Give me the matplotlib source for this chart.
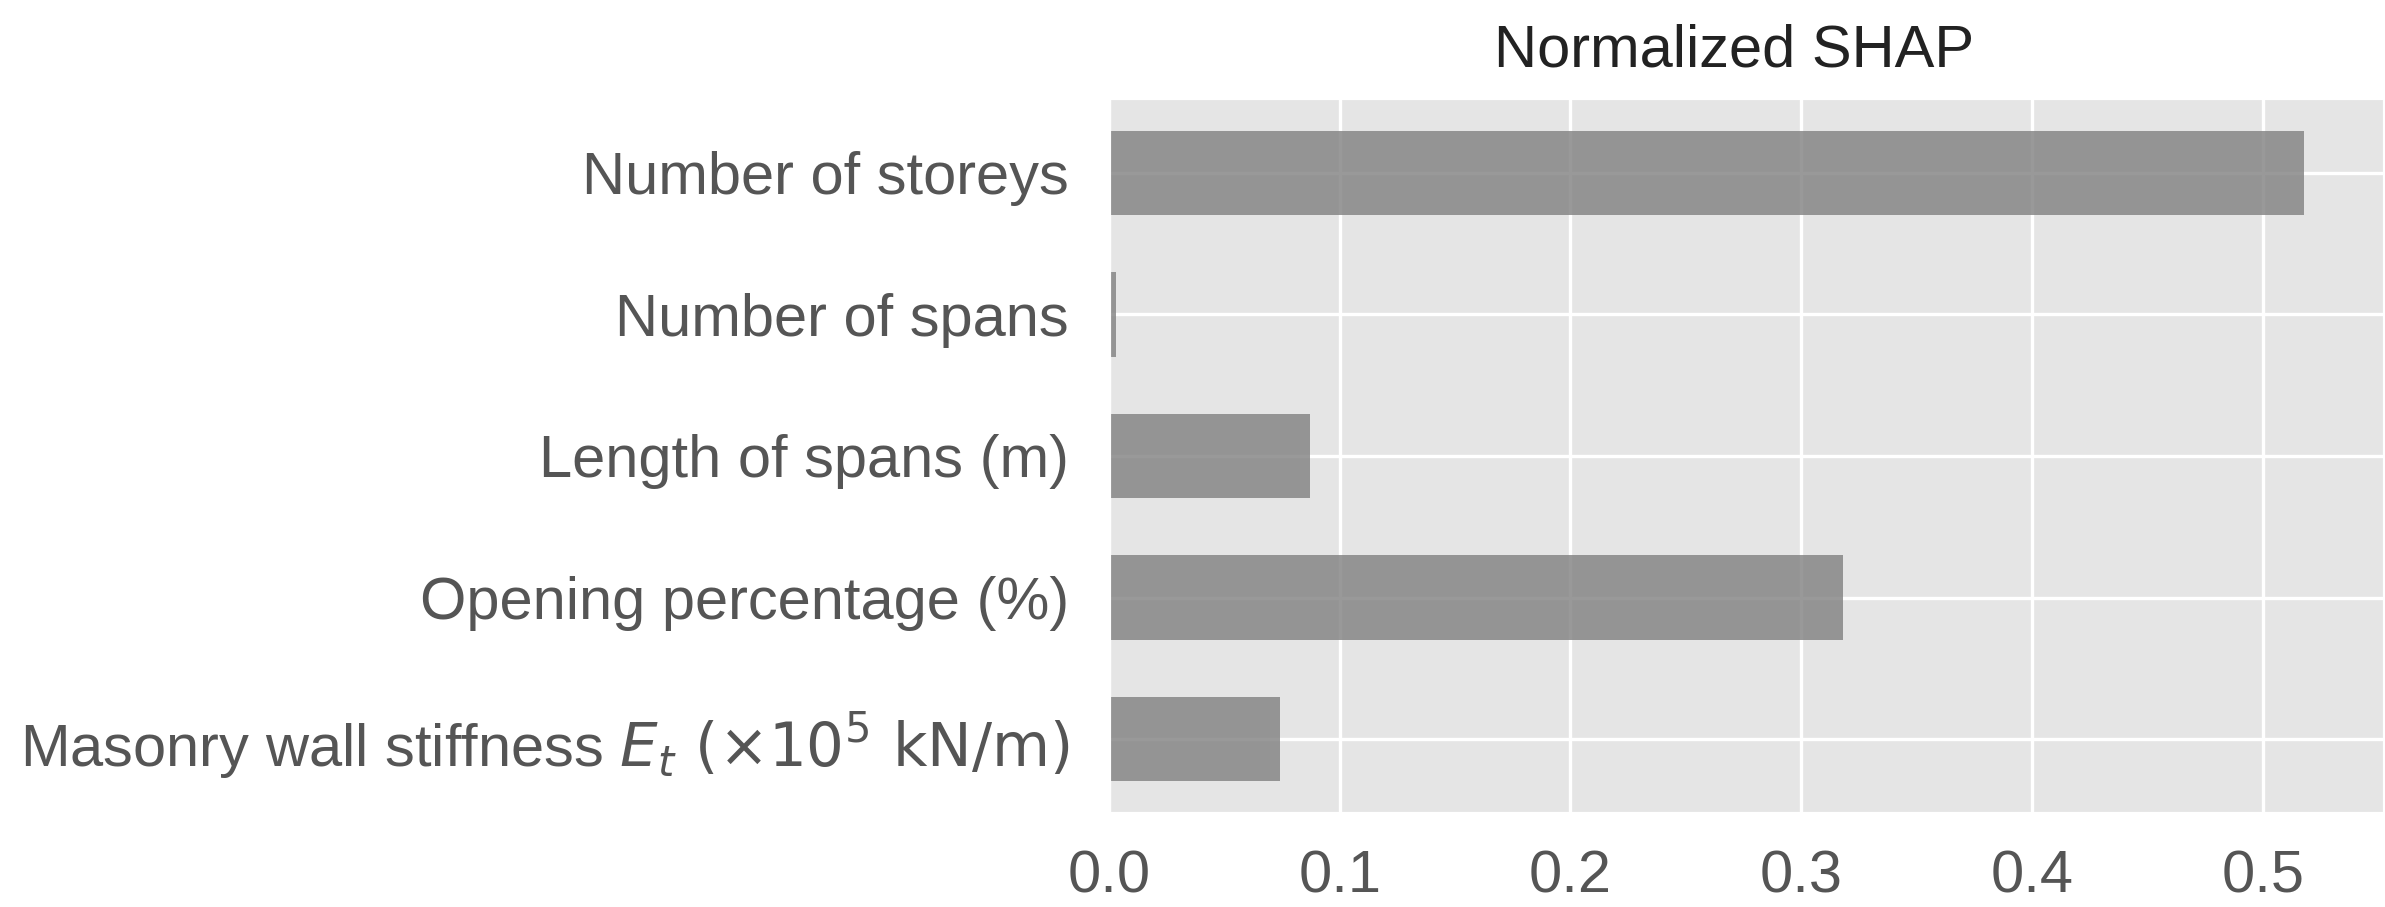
import matplotlib
matplotlib.use('Agg')
import matplotlib.pyplot as plt

# feature names, top to bottom as in the figure
features = [
    'Number of storeys',
    'Number of spans',
    'Length of spans (m)',
    'Opening percentage (%)',
    r'Masonry wall stiffness $E_t\ (\times 10^5\ \mathrm{kN/m})$',
]
shap_norm = [0.518, 0.003, 0.087, 0.318, 0.074]
xticks = [0.0, 0.1, 0.2, 0.3, 0.4, 0.5]

plt.style.use('ggplot')
plt.rcParams['font.family'] = ['Liberation Sans', 'DejaVu Sans']
plt.rcParams['mathtext.fontset'] = 'dejavusans'

fig = plt.figure(figsize=(2385 / 300, 907 / 300), dpi=300)
ax = fig.add_axes([0.465, 0.1025, 0.535, 0.7895])

pos = list(range(len(features)))[::-1]
ax.barh(pos, shap_norm, height=0.6, color='gray', alpha=0.8)

ax.set_yticks(pos)
ax.set_yticklabels(features)
ax.set_xticks(xticks)
ax.set_xticklabels([f'{t:.1f}' for t in xticks])
ax.set_xlim(0, 0.553)
ax.set_ylim(-0.53, 4.53)

ax.tick_params(axis='both', length=0, labelsize=14.3, colors='#555555')
ax.tick_params(axis='x', pad=8.4)
ax.tick_params(axis='y', pad=9.6)
ax.grid(True, color='white', linewidth=0.8)
ax.set_axisbelow(True)

ax.set_title('Normalized SHAP', fontsize=14.3, color='#222222', pad=7.5, x=0.49)

fig.savefig('out.png', dpi=300)
